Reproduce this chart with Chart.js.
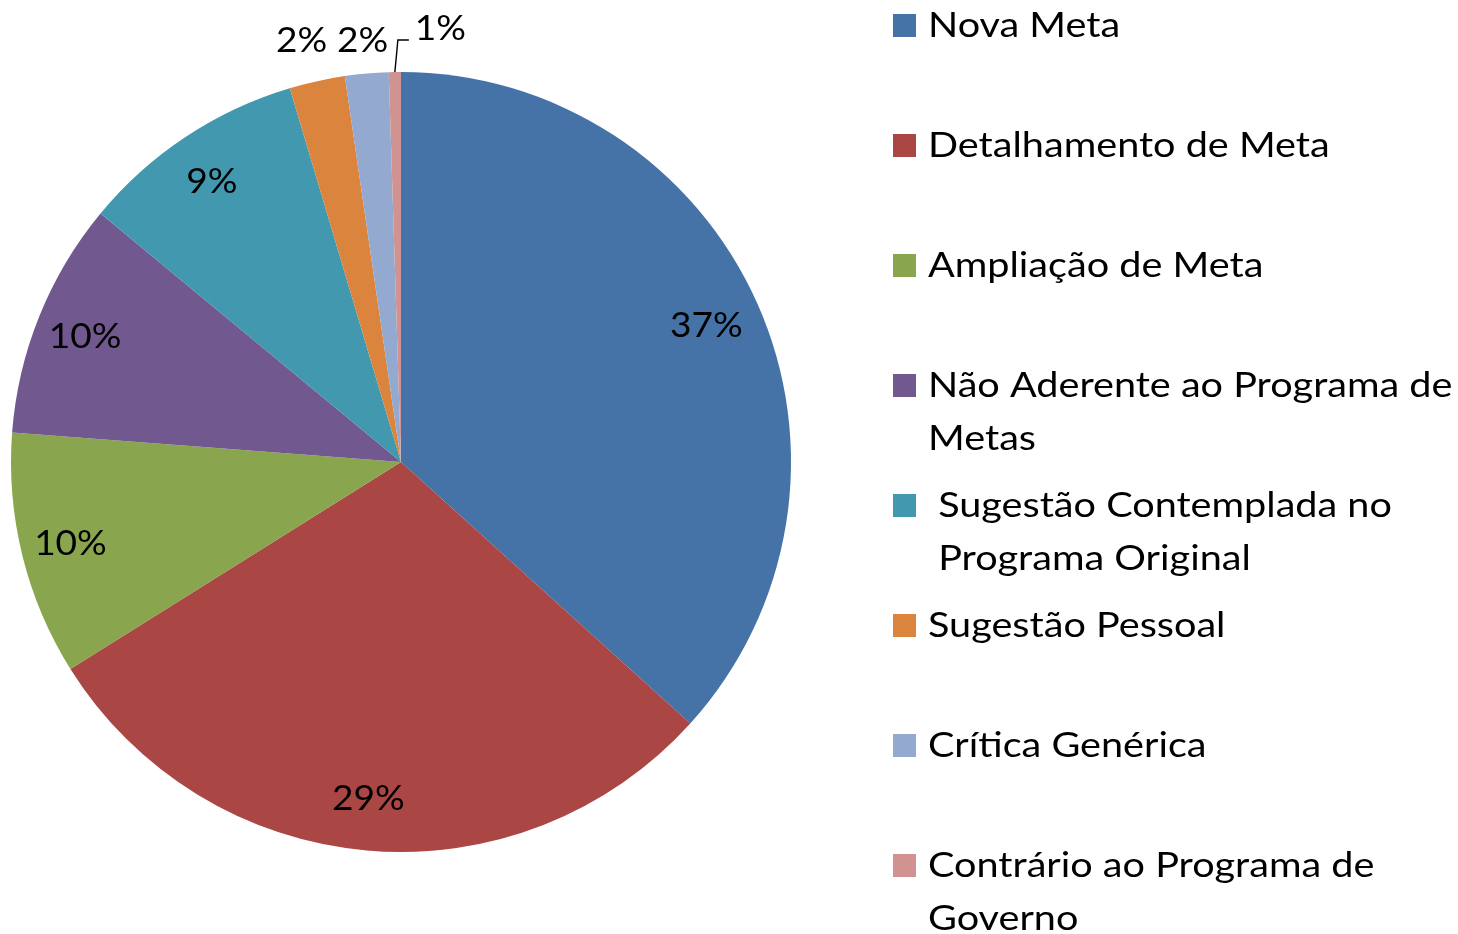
<!DOCTYPE html>
<html><head><meta charset="utf-8">
<script src="https://cdn.jsdelivr.net/npm/chart.js@4.4.0/dist/chart.umd.min.js"></script>
<style>html,body{margin:0;padding:0;background:#fff;overflow:hidden;} #wrap{width:1458px;height:934px;position:relative;}</style>
</head><body><div id="wrap"><canvas id="c" width="1458" height="934"></canvas></div>
<script>
const categories = ['Nova Meta','Detalhamento de Meta','Ampliação de Meta','Não Aderente ao Programa de Metas',' Sugestão Contemplada no Programa Original','Sugestão Pessoal','Crítica Genérica','Contrário ao Programa de Governo'];
const values = [36.7, 29.4, 10.1, 9.8, 9.4, 2.3, 1.8, 0.5];
const colors = ['#4572A7','#AA4643','#89A54E','#71588F','#4198AF','#DB843D','#93A9CF','#D19392'];

const FONT = '34px Lato';
const LEGEND_SX = 1.165, PCT_SX = 1.09;
const total = values.reduce((a,b)=>a+b,0);
const pctText = values.map(v => Math.round(v/total*100) + '%');

function drawText(ctx, txt, x, y, sx, align) {
  ctx.save();
  ctx.translate(x, y);
  ctx.scale(sx, 1);
  ctx.textAlign = align;
  ctx.fillText(txt, 0, 0);
  ctx.restore();
}

const labelPlugin = {
  id: 'customLabels',
  afterDraw(chart) {
    const ctx = chart.ctx;
    const meta = chart.getDatasetMeta(0);
    ctx.save();
    ctx.font = FONT;
    ctx.fillStyle = '#000';
    ctx.textBaseline = 'alphabetic';
    const capHalf = 12;
    let prevRight = -Infinity;
    meta.data.forEach((arc, i) => {
      const {x, y, startAngle, endAngle, outerRadius: R} = arc.getProps(['x','y','startAngle','endAngle','outerRadius'], true);
      const mid = (startAngle + endAngle) / 2;
      const frac = values[i] / total;
      const txt = pctText[i];
      if (frac >= 0.05) {
        const r = R * 0.865;
        drawText(ctx, txt, x + r * Math.cos(mid) - 3, y + r * Math.sin(mid) + capHalf, PCT_SX, 'center');
      } else if (frac >= 0.01) {
        const r = R + 40;
        const w = ctx.measureText(txt).width * PCT_SX;
        let cx = x + r * Math.cos(mid) - 7;
        if (cx - w / 2 < prevRight + 10) cx = prevRight + 10 + w / 2;
        prevRight = cx + w / 2;
        drawText(ctx, txt, cx, y - R - 32 + capHalf, PCT_SX, 'center');
      } else {
        const ax = x + R * Math.cos(mid), ay = y + R * Math.sin(mid);
        const ex = ax + 3, ey = y - R - 32;
        ctx.strokeStyle = '#000';
        ctx.lineWidth = 1.4;
        ctx.beginPath();
        ctx.moveTo(ax, ay);
        ctx.lineTo(ex, ey);
        ctx.lineTo(ex + 11, ey);
        ctx.stroke();
        drawText(ctx, txt, ex + 17, ey - 12 + capHalf, PCT_SX, 'left');
      }
    });
    // legend
    const boxX = 893, boxS = 23, textX = 928, firstBase = 37, step = 120, lineH = 53;
    const maxW = chart.width - textX;
    categories.forEach((lab, i) => {
      const base = firstBase + step * i;
      ctx.fillStyle = colors[i];
      ctx.fillRect(boxX, base - boxS, boxS, boxS);
      ctx.fillStyle = '#000';
      const lead = lab.match(/^\s*/)[0];
      const indent = ctx.measureText(lead).width * LEGEND_SX;
      const words = lab.trim().split(/\s+/);
      const lines = [];
      let cur = '';
      words.forEach(w => {
        const t = cur ? cur + ' ' + w : w;
        if (cur && ctx.measureText(t).width * LEGEND_SX + indent > maxW) { lines.push(cur); cur = w; }
        else cur = t;
      });
      if (cur) lines.push(cur);
      lines.forEach((ln, k) => drawText(ctx, ln, textX + indent, base + k * lineH, LEGEND_SX, 'left'));
    });
    ctx.restore();
  }
};

new Chart(document.getElementById('c'), {
  type: 'pie',
  data: {
    labels: categories,
    datasets: [{ data: values, backgroundColor: colors, borderWidth: 0 }]
  },
  options: {
    responsive: false,
    animation: false,
    devicePixelRatio: 1,
    layout: { padding: { left: 11, right: 667, top: 72, bottom: 82 } },
    plugins: { legend: { display: false }, tooltip: { enabled: false } }
  },
  plugins: [labelPlugin]
});
</script></body></html>
